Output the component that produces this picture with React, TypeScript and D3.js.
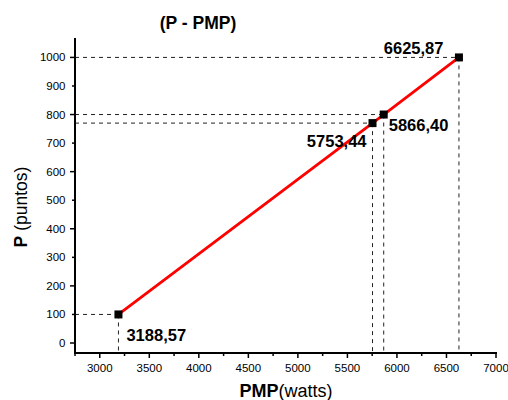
import React from "react";
import * as d3 from "d3";

const pmpValues = [3188.57, 5753.44, 5866.4, 6625.87];
const pValues = [100, 770, 800, 1000];
const pointLabels = ["3188,57", "5753,44", "5866,40", "6625,87"];
const xTicks = [3000, 3500, 4000, 4500, 5000, 5500, 6000, 6500, 7000];
const yTicks = [0, 100, 200, 300, 400, 500, 600, 700, 800, 900, 1000];

const W = 508;
const H = 400;
const font = "'Liberation Sans', Arial, sans-serif";

export default function App() {
  const x = d3.scaleLinear().domain([2750, 7000]).range([75, 496]);
  const y = d3.scaleLinear().domain([-35, 1068]).range([353, 38]);
  const pts = pmpValues.map((v, i) => [v, pValues[i]] as [number, number]);
  const line = d3
    .line<[number, number]>()
    .x((d) => x(d[0]))
    .y((d) => y(d[1]));
  const minorX = d3.range(2750, 7001, 250).filter((v) => v % 500 !== 0);
  // label offsets (dx, dy) relative to point
  const labelPos: [number, number, string][] = [
    [8, 27, "start"],
    [-6, 23.5, "end"],
    [5, 16.5, "start"],
    [-15.5, -3.5, "end"],
  ];
  return (
    <svg
      width={W}
      height={H}
      style={{ position: "absolute", left: 0, top: 0, background: "#fff" }}
      fontFamily={font}
    >
      <text x={198} y={29} textAnchor="middle" fontWeight="bold" fontSize={17.5}>
        (P - PMP)
      </text>
      {/* dashed guides */}
      {pts.map((d, i) => (
        <g key={"g" + i} stroke="#222" strokeWidth={1} strokeDasharray="4,4">
          <line x1={x(2750)} x2={x(d[0])} y1={y(d[1])} y2={y(d[1])} />
          <line x1={x(d[0])} x2={x(d[0])} y1={y(d[1])} y2={y(-35)} />
        </g>
      ))}
      {/* line */}
      <path d={line(pts) || ""} fill="none" stroke="#ff0000" strokeWidth={2.8} />
      {pts.map((d, i) => (
        <rect key={"r" + i} x={x(d[0]) - 4} y={y(d[1]) - 4} width={8} height={8} fill="#000" />
      ))}
      {pts.map((d, i) => (
        <text
          key={"t" + i}
          x={x(d[0]) + labelPos[i][0]}
          y={y(d[1]) + labelPos[i][1]}
          textAnchor={labelPos[i][2] as any}
          fontWeight="bold"
          fontSize={16.5}
        >
          {pointLabels[i]}
        </text>
      ))}
      {/* axes */}
      <line x1={75} x2={75} y1={38} y2={353} stroke="#000" strokeWidth={2} />
      <line x1={74} x2={497} y1={353} y2={353} stroke="#000" strokeWidth={2} />
      {yTicks.map((t) => (
        <g key={"y" + t}>
          <line
            x1={75}
            x2={t % 200 === 0 ? 70 : 72}
            y1={y(t)}
            y2={y(t)}
            stroke="#000"
            strokeWidth={1.5}
          />
          <text x={65.5} y={y(t) + 4} textAnchor="end" fontSize={11.5}>
            {t}
          </text>
        </g>
      ))}
      {xTicks.map((t) => (
        <g key={"x" + t}>
          <line x1={x(t)} x2={x(t)} y1={353} y2={358} stroke="#000" strokeWidth={1.5} />
          <text x={x(t)} y={372} textAnchor="middle" fontSize={11.5}>
            {t}
          </text>
        </g>
      ))}
      {minorX.map((t) => (
        <line key={"m" + t} x1={x(t)} x2={x(t)} y1={353} y2={356} stroke="#000" strokeWidth={1.5} />
      ))}
      <text x={286} y={397} textAnchor="middle" fontSize={18}>
        <tspan fontWeight="bold">PMP</tspan>
        <tspan>(watts)</tspan>
      </text>
      <text
        transform="translate(27,207) rotate(-90)"
        textAnchor="middle"
        fontSize={17.5}
      >
        <tspan fontWeight="bold">P</tspan>
        <tspan> (puntos)</tspan>
      </text>
    </svg>
  );
}
